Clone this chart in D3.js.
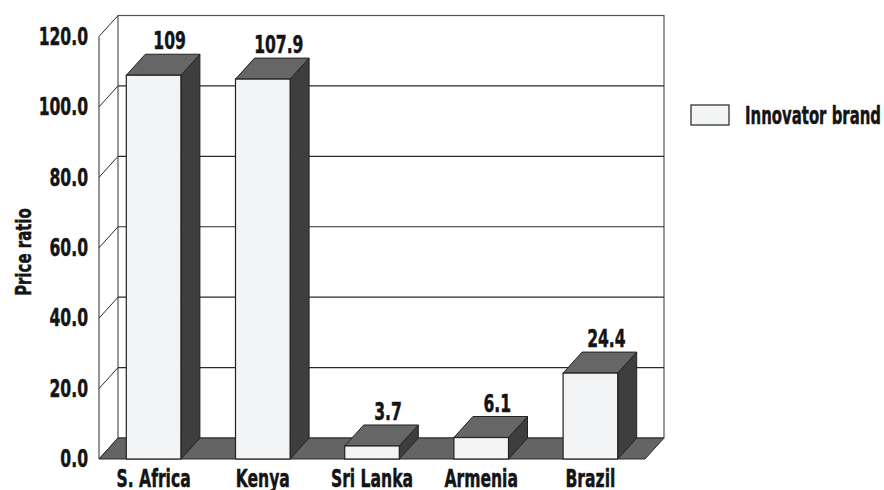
<!DOCTYPE html>
<html>
<head>
<meta charset="utf-8">
<script src="https://cdn.jsdelivr.net/npm/d3@7/dist/d3.min.js"></script>
<style>
  html, body { margin: 0; padding: 0; background: #fff; }
  svg { display: block; }
  text { font-family: "DejaVu Sans", sans-serif; font-weight: bold; fill: #141414; stroke: #141414; stroke-width: 0.5px; }
</style>
</head>
<body>
<svg id="chart" width="884" height="490"></svg>
<script>
// Price ratio of the innovator brand by country
const categories = ["S. Africa", "Kenya", "Sri Lanka", "Armenia", "Brazil"];
const innovatorValues = [109, 107.9, 3.7, 6.1, 24.4];
const yTicks = [0, 20, 40, 60, 80, 100, 120];
const seriesName = "Innovator brand";
const yTitle = "Price ratio";

const svg = d3.select("#chart");

// front plane of the 3D box and the depth offset to the back wall
const plot = { left: 99, right: 645, top: 36.5, bottom: 459 };
const depth = { dx: 19, dy: -21 };
const fontSize = 24;

// squeeze text horizontally to get a condensed heavy face
const squeeze = 0.65;
function condense(sel, f = squeeze) {
  sel.each(function () {
    const len = this.getComputedTextLength();
    d3.select(this)
      .attr("textLength", len * f)
      .attr("lengthAdjust", "spacingAndGlyphs");
  });
}

const x = d3.scaleBand()
  .domain(categories)
  .range([plot.left, plot.right])
  .paddingInner(0.5)
  .paddingOuter(0.25);

const y = d3.scaleLinear()
  .domain([0, 120])
  .range([plot.bottom, plot.top]);

const lineColor = "#2a2a2a";

// back wall
const back = svg.append("g");
back.append("rect")
  .attr("x", plot.left + depth.dx)
  .attr("y", y(120) + depth.dy)
  .attr("width", plot.right - plot.left)
  .attr("height", y(0) - y(120))
  .attr("fill", "#fff")
  .attr("stroke", "#555")
  .attr("stroke-width", 1.2);

// gridlines on the back wall and matching diagonals on the left wall
back.selectAll("line.grid")
  .data(yTicks.filter(d => d > 0 && d < 120))
  .join("line")
  .attr("class", "grid")
  .attr("x1", plot.left + depth.dx)
  .attr("x2", plot.right + depth.dx)
  .attr("y1", d => y(d) + depth.dy)
  .attr("y2", d => y(d) + depth.dy)
  .attr("stroke", lineColor)
  .attr("stroke-width", 1.2);

back.selectAll("line.diag")
  .data(yTicks)
  .join("line")
  .attr("class", "diag")
  .attr("x1", plot.left)
  .attr("x2", plot.left + depth.dx)
  .attr("y1", d => y(d))
  .attr("y2", d => y(d) + depth.dy)
  .attr("stroke", lineColor)
  .attr("stroke-width", 1);

// front edge of the left wall
back.append("line")
  .attr("x1", plot.left).attr("x2", plot.left)
  .attr("y1", y(120)).attr("y2", y(0))
  .attr("stroke", lineColor).attr("stroke-width", 1);

// floor
const floorPts = [
  [plot.left, y(0)],
  [plot.right, y(0)],
  [plot.right + depth.dx, y(0) + depth.dy],
  [plot.left + depth.dx, y(0) + depth.dy]
];
svg.append("path")
  .attr("d", d3.line()(floorPts) + "Z")
  .attr("fill", "#646464")
  .attr("stroke", "#2a2a2a")
  .attr("stroke-width", 1);

// bars as boxes: side, top, front
const bars = svg.append("g").selectAll("g")
  .data(categories.map((c, i) => ({ c, v: innovatorValues[i] })))
  .join("g");

bars.append("path")
  .attr("d", d => {
    const x1 = x(d.c) + x.bandwidth();
    const yt = y(d.v), yb = y(0);
    return d3.line()([[x1, yt], [x1 + depth.dx, yt + depth.dy], [x1 + depth.dx, yb + depth.dy], [x1, yb]]) + "Z";
  })
  .attr("fill", "#3e3e3e")
  .attr("stroke", "#222")
  .attr("stroke-width", 1);

bars.append("path")
  .attr("d", d => {
    const x0 = x(d.c), x1 = x0 + x.bandwidth();
    const yt = y(d.v);
    return d3.line()([[x0, yt], [x0 + depth.dx, yt + depth.dy], [x1 + depth.dx, yt + depth.dy], [x1, yt]]) + "Z";
  })
  .attr("fill", "#666666")
  .attr("stroke", "#222")
  .attr("stroke-width", 1);

bars.append("rect")
  .attr("x", d => x(d.c))
  .attr("y", d => y(d.v))
  .attr("width", x.bandwidth())
  .attr("height", d => y(0) - y(d.v))
  .attr("fill", "#f3f4f6")
  .attr("stroke", "#222")
  .attr("stroke-width", 1.2);

// value labels above each box
bars.append("text")
  .attr("x", d => x(d.c) + x.bandwidth() / 2 + 16)
  .attr("y", d => y(d.v) + depth.dy - 5)
  .attr("text-anchor", "middle")
  .attr("font-size", fontSize)
  .text(d => d.v)
  .call(condense);

// y axis tick labels
const yAxis = svg.append("g")
  .attr("transform", `translate(${plot.left},0)`)
  .call(d3.axisLeft(y).tickValues(yTicks).tickFormat(d3.format(".1f")).tickSize(0).tickPadding(11));
yAxis.select(".domain").remove();
yAxis.selectAll("text")
  .attr("font-size", fontSize)
  .attr("font-family", null)
  .attr("fill", "#141414")
  .call(condense);

// x axis category labels
const xAxis = svg.append("g")
  .attr("transform", `translate(0,${plot.bottom})`)
  .call(d3.axisBottom(x).tickSize(0).tickPadding(11));
xAxis.select(".domain").remove();
xAxis.selectAll("text")
  .attr("font-size", fontSize)
  .attr("font-family", null)
  .attr("fill", "#141414")
  .call(condense);

// y axis title
svg.append("text")
  .attr("transform", "translate(31,252) rotate(-90)")
  .attr("text-anchor", "middle")
  .attr("font-size", 22)
  .text(yTitle)
  .call(condense, 0.68);

// legend
const legend = svg.append("g");
legend.append("rect")
  .attr("x", 691).attr("y", 105)
  .attr("width", 38).attr("height", 20)
  .attr("fill", "#f3f4f6")
  .attr("stroke", "#222")
  .attr("stroke-width", 1.2);
legend.append("text")
  .attr("x", 745).attr("y", 124)
  .attr("font-size", fontSize)
  .text(seriesName)
  .attr("textLength", 136)
  .attr("lengthAdjust", "spacingAndGlyphs");
</script>
</body>
</html>
